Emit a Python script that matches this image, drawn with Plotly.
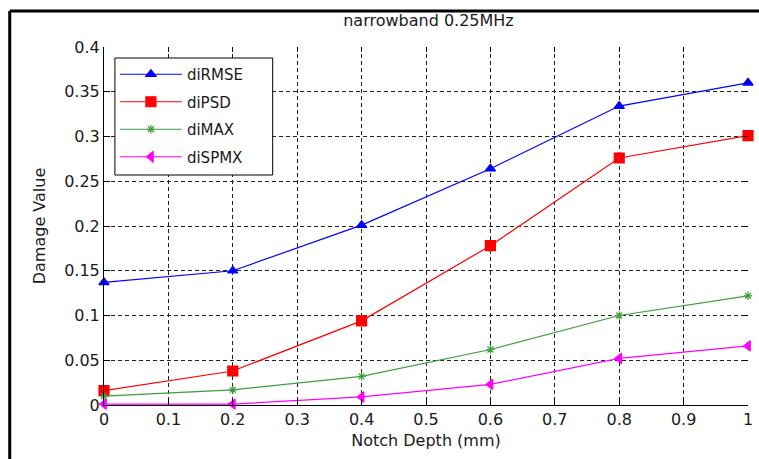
import plotly.graph_objects as go

# Notch depth (mm) and damage indices
depth = [0, 0.2, 0.4, 0.6, 0.8, 1.0]
di_rmse = [0.137, 0.150, 0.201, 0.264, 0.334, 0.360]
di_psd = [0.016, 0.038, 0.094, 0.178, 0.276, 0.301]
di_max = [0.010, 0.017, 0.032, 0.062, 0.100, 0.122]
di_spmx = [0.001, 0.001, 0.009, 0.023, 0.052, 0.066]

x_ticks = [0, 0.1, 0.2, 0.3, 0.4, 0.5, 0.6, 0.7, 0.8, 0.9, 1]
x_tick_text = ["0", "0.1", "0.2", "0.3", "0.4", "0.5", "0.6", "0.7", "0.8", "0.9", "1"]
y_ticks = [0, 0.05, 0.1, 0.15, 0.2, 0.25, 0.3, 0.35, 0.4]
y_tick_text = ["0", "0.05", "0.1", "0.15", "0.2", "0.25", "0.3", "0.35", "0.4"]

FONT = "DejaVu Sans"

series = [
    ("diRMSE", di_rmse, "#0000ff", "triangle-up", 9),
    ("diPSD", di_psd, "#ff0000", "square", 10),
    ("diMAX", di_max, "#3c9f3c", "asterisk-open", 7),
    ("diSPMX", di_spmx, "#ff00ff", "triangle-left", 9),
]

fig = go.Figure()
for name, vals, color, sym, size in series:
    fig.add_trace(go.Scatter(
        x=depth, y=vals, name=name, mode="lines+markers",
        legendgroup=name,
        line=dict(color=color, width=1.2),
        marker=dict(symbol=sym, size=size, color=color,
                    line=dict(color=color, width=1.2)),
        cliponaxis=False,
    ))

# invisible trace on mirrored axes to carry the top/right tick marks
fig.add_trace(go.Scatter(x=[0], y=[0], xaxis="x2", yaxis="y2",
                         mode="markers", marker=dict(opacity=0),
                         showlegend=False, hoverinfo="skip"))

W, H = 759, 459
L, R, T, B = 104, 6, 47, 54
pw, ph = W - L - R, H - T - B


def px_x(v):
    return (v - L) / pw


def px_y(v):
    return 1 - (v - T) / ph


fig.update_layout(
    width=W, height=H,
    margin=dict(l=L, r=R, t=T, b=B),
    paper_bgcolor="white", plot_bgcolor="white",
    font=dict(family=FONT, size=16, color="#1a1a1a"),
    title=dict(text="narrowband 0.25MHz", x=(L + pw / 2) / W, xanchor="center",
               y=1 - 20 / H, yanchor="middle", font=dict(size=16, family=FONT)),
    xaxis=dict(
        range=[0, 1], tickvals=x_ticks, ticktext=x_tick_text,
        showline=True, linecolor="black", linewidth=1,
        ticks="inside", ticklen=6, tickcolor="black",
        showgrid=True, gridcolor="#222222", gridwidth=1, griddash="4px,3px",
        zeroline=False,
        title=dict(text="Notch Depth (mm)", standoff=6, font=dict(size=16)),
    ),
    yaxis=dict(
        range=[0, 0.4], tickvals=y_ticks, ticktext=y_tick_text,
        showline=True, linecolor="black", linewidth=1,
        ticks="inside", ticklen=6, tickcolor="black",
        showgrid=True, gridcolor="#222222", gridwidth=1, griddash="4px,3px",
        zeroline=False,
        title=dict(text="Damage Value", standoff=14, font=dict(size=16)),
    ),
    xaxis2=dict(overlaying="x", matches="x", side="top", range=[0, 1],
                tickvals=x_ticks, showticklabels=False, ticks="inside",
                ticklen=5, tickcolor="black", showgrid=False, showline=False,
                zeroline=False),
    yaxis2=dict(overlaying="y", matches="y", side="right", range=[0, 0.4],
                tickvals=y_ticks, showticklabels=False, ticks="inside",
                ticklen=5, tickcolor="black", showgrid=False, showline=False,
                zeroline=False),
    legend=dict(
        x=px_x(115), y=px_y(58), xanchor="left", yanchor="top",
        bgcolor="rgba(0,0,0,0)", borderwidth=0,
        font=dict(size=15, family=FONT, color="#1a1a1a"),
        tracegroupgap=5, itemwidth=62,
    ),
    showlegend=True,
)

# legend frame
fig.add_shape(type="rect", xref="paper", yref="paper", layer="above",
              x0=px_x(115), x1=px_x(274), y0=px_y(175), y1=px_y(58),
              fillcolor="white", line=dict(color="black", width=1))

# outer frame lines along the left and top of the figure
fx = px_x(9)
fy = px_y(11)
fig.add_shape(type="line", xref="paper", yref="paper",
              x0=fx, x1=fx, y0=-0.3, y1=fy, line=dict(color="black", width=3))
fig.add_shape(type="line", xref="paper", yref="paper",
              x0=fx, x1=1.1, y0=fy, y1=fy, line=dict(color="black", width=3))

fig.write_html("out.html")
